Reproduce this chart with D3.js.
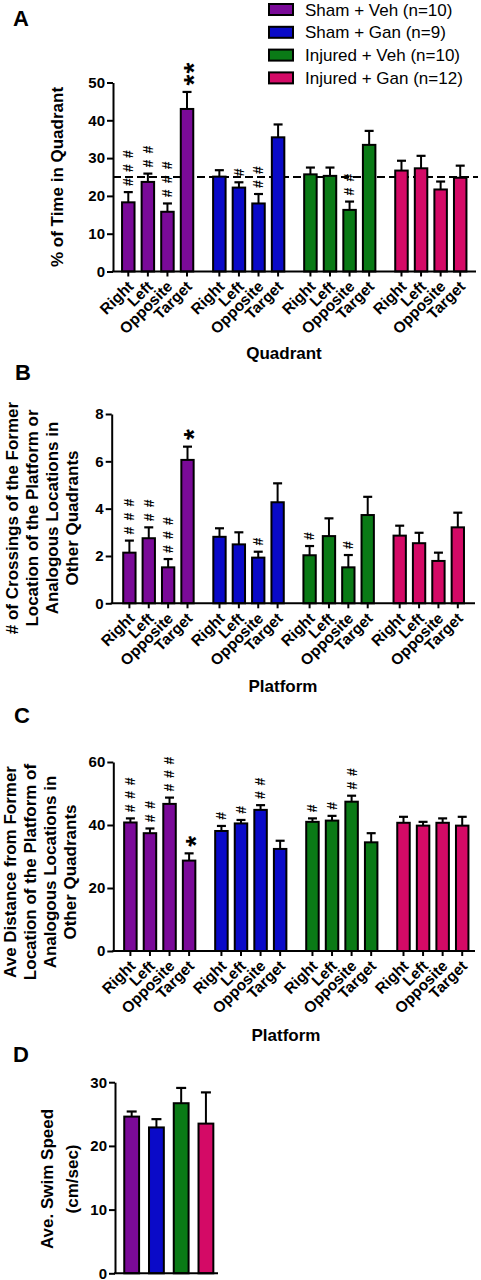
<!DOCTYPE html>
<html><head><meta charset="utf-8">
<script src="https://cdn.jsdelivr.net/npm/d3@7"></script>
<style>
body{margin:0;background:#fff}
svg{display:block}
text{font-family:"Liberation Sans",Arial,Helvetica,sans-serif;fill:#000}
</style>
</head><body>
<svg id="c" width="481" height="1280"></svg>
<script>
// ---------- data ----------
const groups = ["Sham + Veh (n=10)", "Sham + Gan (n=9)", "Injured + Veh (n=10)", "Injured + Gan (n=12)"];
const categories = ["Right", "Left", "Opposite", "Target"];
const colors = ["#7a0a98", "#0a0ac8", "#0a7a16", "#d40a66"];

// Panel A: % of time in quadrant
const timeMean = [[18.3, 23.7, 15.8, 43.0], [25.1, 22.2, 18.0, 35.5], [25.7, 25.3, 16.3, 33.5], [26.7, 27.3, 21.7, 24.8]];
const timeSem  = [[2.7, 2.2, 2.2, 4.5], [1.7, 1.4, 2.5, 3.4], [1.8, 2.2, 2.2, 3.7], [2.6, 3.3, 2.1, 3.2]];
const timeMarks = [["###", "##", "###", "**"], ["", "#", "##", ""], ["", "", "##", ""], ["", "", "", ""]];
const timeTicks = [0, 10, 20, 30, 40, 50];
const timeChance = 25;

// Panel B: crossings
const crossMean = [[2.14, 2.75, 1.52, 6.06], [2.81, 2.49, 1.93, 4.27], [2.03, 2.84, 1.52, 3.73], [2.86, 2.54, 1.79, 3.21]];
const crossSem  = [[0.51, 0.46, 0.35, 0.56], [0.36, 0.51, 0.25, 0.80], [0.39, 0.75, 0.52, 0.77], [0.42, 0.44, 0.35, 0.62]];
const crossMarks = [["###", "##", "###", "*"], ["", "", "#", ""], ["#", "", "#", ""], ["", "", "", ""]];
const crossTicks = [0, 2, 4, 6, 8];

// Panel C: average distance
const distMean = [[40.8, 37.4, 46.7, 28.7], [38.1, 40.5, 44.8, 32.4], [41.0, 41.4, 47.4, 34.5], [40.7, 39.8, 40.7, 39.8]];
const distSem  = [[1.3, 1.5, 2.0, 2.3], [1.6, 1.1, 1.5, 2.6], [1.1, 1.5, 1.9, 2.9], [1.9, 1.2, 1.4, 2.8]];
const distMarks = [["###", "##", "###", "*"], ["#", "#", "##", ""], ["#", "#", "##", ""], ["", "", "", ""]];
const distTicks = [0, 20, 40, 60];

// Panel D: swim speed
const speedMean = [24.6, 22.9, 26.7, 23.5];
const speedSem  = [0.8, 1.3, 2.4, 4.9];
const speedTicks = [0, 10, 20, 30];

// ---------- drawing ----------
const svg = d3.select("#c");
const FONT_TITLE = 17;

function styleAxis(g) {
  g.selectAll("path.domain").attr("stroke", "#000").attr("stroke-width", 2);
  g.selectAll(".tick line").attr("stroke", "#000").attr("stroke-width", 2);
  g.selectAll(".tick text").attr("font-size", 15).attr("font-weight", "bold")
    .attr("font-family", '"Liberation Sans",Arial,sans-serif').attr("fill", "#000");
}

function yTitle(lines, cx, cy, lineGap) {
  const n = lines.length;
  const t = svg.append("text")
    .attr("transform", `translate(${cx - (n - 1) * lineGap / 2 + 6},${cy}) rotate(-90)`)
    .attr("text-anchor", "middle").attr("font-size", FONT_TITLE).attr("font-weight", "bold");
  lines.forEach((l, i) => t.append("tspan").attr("x", 0).attr("dy", i === 0 ? 0 : lineGap).text(l));
}

// significance marks: a vertical run of symbols, written as one rotated text
function stackMarks(str, cx, errTop, spacing) {
  const isStar = str[0] === "*";
  const fs = isStar ? 28 : 14;
  const adv = isStar ? 0.389 * fs : 0.556 * fs;
  const ls = (isStar ? 12 : spacing) - adv;
  const gap = isStar ? 12 : 10;           // distance from error cap to centre of first symbol
  const start = errTop - gap + adv / 2;
  const mid = isStar ? 0.57 * fs : 0.35 * fs;
  svg.append("text")
    .attr("transform", `translate(${cx},${start}) rotate(-90)`)
    .attr("x", 0).attr("y", mid)
    .attr("letter-spacing", ls)
    .attr("font-size", fs).attr("font-weight", "bold").text(str);
}

function groupedPanel(o) {
  const y = d3.scaleLinear().domain([0, o.ticks[o.ticks.length - 1]]).range([o.y0, o.yTop]);
  const xg = d3.scaleBand().domain(groups).range(o.xr).paddingInner(0.14).paddingOuter(0);
  const xc = d3.scaleBand().domain(categories).range([0, xg.bandwidth()]).paddingInner(0.26).paddingOuter(0.13);
  const bw = xc.bandwidth();

  const ga = svg.append("g").attr("transform", `translate(${o.axisX},0)`)
    .call(d3.axisLeft(y).tickValues(o.ticks).tickSize(6).tickSizeOuter(0).tickPadding(2));
  styleAxis(ga);

  if (o.ref !== undefined) {
    svg.append("line").attr("x1", o.axisX).attr("x2", o.xEnd + 2).attr("y1", y(o.ref)).attr("y2", y(o.ref))
      .attr("stroke", "#000").attr("stroke-width", 2).attr("stroke-dasharray", "8,4");
  }

  groups.forEach((g, gi) => {
    categories.forEach((c, ci) => {
      const x0 = xg(g) + xc(c);
      const cx = x0 + bw / 2;
      const m = o.mean[gi][ci], s = o.sem[gi][ci];
      svg.append("line").attr("x1", cx).attr("x2", cx).attr("y1", y(m)).attr("y2", y(m + s))
        .attr("stroke", "#000").attr("stroke-width", 2);
      svg.append("line").attr("x1", cx - 4.5).attr("x2", cx + 4.5).attr("y1", y(m + s)).attr("y2", y(m + s))
        .attr("stroke", "#000").attr("stroke-width", 2.2);
      svg.append("rect").attr("x", x0 + 1).attr("width", bw - 2)
        .attr("y", y(m)).attr("height", o.y0 - y(m))
        .attr("fill", colors[gi]).attr("stroke", "#000").attr("stroke-width", 2);
      svg.append("line").attr("x1", cx).attr("x2", cx).attr("y1", o.y0).attr("y2", o.y0 + 5)
        .attr("stroke", "#000").attr("stroke-width", 2);
      svg.append("text").attr("transform", `translate(${cx + 6},${o.y0 + 16}) rotate(-45)`)
        .attr("text-anchor", "end").attr("font-size", 15.5).attr("font-weight", "bold").text(c);
      const mk = o.marks[gi][ci];
      if (mk) stackMarks(mk, cx, y(m + s), o.markGap);
    });
  });

  svg.append("line").attr("x1", o.axisX - 1).attr("x2", o.xEnd).attr("y1", o.y0).attr("y2", o.y0)
    .attr("stroke", "#000").attr("stroke-width", 2);

  yTitle(o.title, o.titleX, o.titleY, 20);
  svg.append("text").attr("x", o.xTitleX).attr("y", o.xTitleY).attr("text-anchor", "middle")
    .attr("font-size", FONT_TITLE).attr("font-weight", "bold").text(o.xTitle);
  svg.append("text").attr("x", o.letter[1]).attr("y", o.letter[2])
    .attr("font-size", 22).attr("font-weight", "bold").text(o.letter[0]);
}

groupedPanel({
  letter: ["A", 13, 26], y0: 271.5, yTop: 82.5, ticks: timeTicks, axisX: 113, xEnd: 476,
  xr: [118.5, 470], mean: timeMean, sem: timeSem, marks: timeMarks, markGap: 14, ref: timeChance,
  title: ["% of Time in Quadrant"], titleX: 57, titleY: 177, xTitle: "Quadrant", xTitleX: 284, xTitleY: 359
});

groupedPanel({
  letter: ["B", 15, 380], y0: 603.3, yTop: 414, ticks: crossTicks, axisX: 111.7, xEnd: 475,
  xr: [119.7, 467.5], mean: crossMean, sem: crossSem, marks: crossMarks, markGap: 14,
  title: ["# of Crossings of the Former", "Location of the Platform or", "Analogous Locations in", "Other Quadrants"],
  titleX: 42, titleY: 518, xTitle: "Platform", xTitleX: 283, xTitleY: 692
});

groupedPanel({
  letter: ["C", 14, 723], y0: 951, yTop: 762, ticks: distTicks, axisX: 113.3, xEnd: 475,
  xr: [120.6, 472], mean: distMean, sem: distSem, marks: distMarks, markGap: 13.5,
  title: ["Ave Distance from Former", "Location of the Platform of", "Analogous Locations in", "Other Quadrants"],
  titleX: 40, titleY: 872, xTitle: "Platform", xTitleX: 286, xTitleY: 1041
});

// Panel D
(function () {
  const y0 = 1273.3, yTop = 1082.2, axisX = 115;
  const y = d3.scaleLinear().domain([0, 30]).range([y0, yTop]);
  const x = d3.scaleBand().domain(groups).range([119.3, 218.3]).paddingInner(0.32).paddingOuter(0.16);
  const ga = svg.append("g").attr("transform", `translate(${axisX},0)`)
    .call(d3.axisLeft(y).tickValues(speedTicks).tickSize(6).tickSizeOuter(0).tickPadding(2));
  styleAxis(ga);
  groups.forEach((g, i) => {
    const cx = x(g) + x.bandwidth() / 2;
    const m = speedMean[i], s = speedSem[i];
    svg.append("line").attr("x1", cx).attr("x2", cx).attr("y1", y(m)).attr("y2", y(m + s))
      .attr("stroke", "#000").attr("stroke-width", 2);
    svg.append("line").attr("x1", cx - 5).attr("x2", cx + 5).attr("y1", y(m + s)).attr("y2", y(m + s))
      .attr("stroke", "#000").attr("stroke-width", 2.2);
    svg.append("rect").attr("x", x(g) + 1).attr("width", x.bandwidth() - 2)
      .attr("y", y(m)).attr("height", y0 - y(m))
      .attr("fill", colors[i]).attr("stroke", "#000").attr("stroke-width", 2);
  });
  svg.append("line").attr("x1", axisX - 1).attr("x2", 218).attr("y1", y0).attr("y2", y0)
    .attr("stroke", "#000").attr("stroke-width", 2);
  yTitle(["Ave. Swim Speed", "(cm/sec)"], 59.5, 1179, 25);
  svg.append("text").attr("x", 13).attr("y", 1062).attr("font-size", 22).attr("font-weight", "bold").text("D");
})();

// Legend
const leg = svg.append("g");
groups.forEach((g, i) => {
  const cy = 9.5 + i * 22.8;
  leg.append("rect").attr("x", 269).attr("y", cy - 5.5).attr("width", 24).attr("height", 11)
    .attr("fill", colors[i]).attr("stroke", "#000").attr("stroke-width", 2);
  leg.append("text").attr("x", 305).attr("y", cy + 6).attr("font-size", 17).text(g);
});
</script>
</body></html>
